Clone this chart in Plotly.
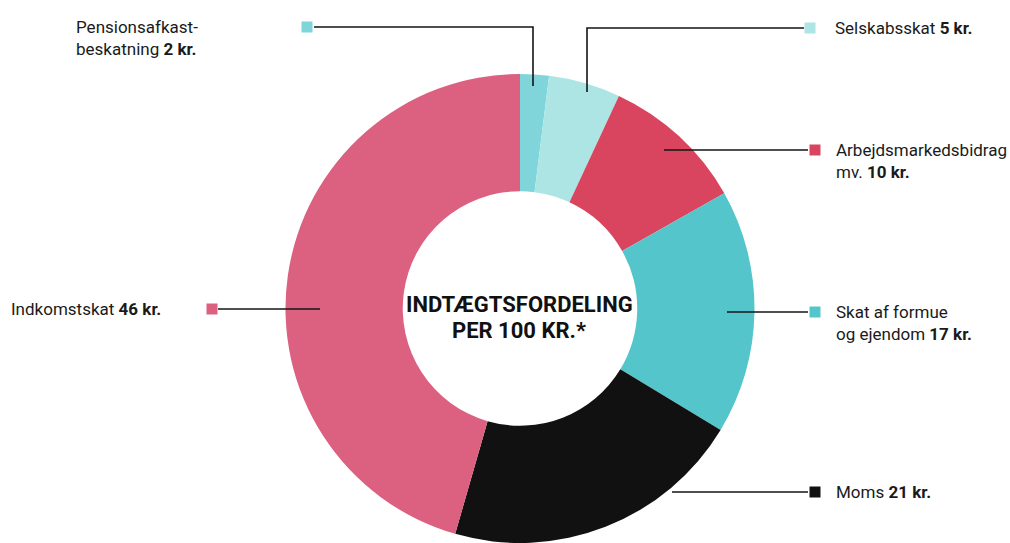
import plotly.graph_objects as go

# ---- data ----
categories = ["Pensionsafkastbeskatning", "Selskabsskat", "Arbejdsmarkedsbidrag mv.",
              "Skat af formue og ejendom", "Moms", "Indkomstskat"]
values = [2, 5, 10, 17, 21, 46]
colors = ["#7fd5da", "#ade4e4", "#d9455f", "#55c5cc", "#111111", "#dc6080"]
label_lines = [
    ["Pensionsafkast-", "beskatning <b>2 kr.</b>"],
    ["Selskabsskat <b>5 kr.</b>"],
    ["Arbejdsmarkedsbidrag", "mv. <b>10 kr.</b>"],
    ["Skat af formue", "og ejendom <b>17 kr.</b>"],
    ["Moms <b>21 kr.</b>"],
    ["Indkomstskat <b>46 kr.</b>"],
]
center_title = ["INDTÆGTSFORDELING", "PER 100 KR.*"]

W, H = 1010, 543
def px(x):
    return x / W
def py(y):
    return 1 - y / H

# leader layout (screen pixels): polyline points, marker position, text anchor
leaders = [
    dict(path=[(533, 86), (533, 27), (314, 27)], marker=(307, 27), text=(74, 27)),
    dict(path=[(587, 92), (587, 28), (804, 28)], marker=(810, 28), text=(833, 28)),
    dict(path=[(664, 150), (808, 150)], marker=(815, 150), text=(834, 150)),
    dict(path=[(727, 312), (808, 312)], marker=(815, 312), text=(834, 312)),
    dict(path=[(672, 492), (808, 492)], marker=(815, 492), text=(834, 492)),
    dict(path=[(320, 309), (218, 309)], marker=(212, 309), text=(9, 309)),
]

# pie placement (screen pixels)
cx, cy, R = 520, 311, 237
dom_x = [px(cx - R), px(cx + R)]
dom_y = [max(0.0, py(cy + R)), py(cy - R)]

fig = go.Figure()
fig.add_trace(go.Pie(
    labels=categories, values=values, hole=0.5, sort=False, direction="clockwise",
    rotation=0, marker=dict(colors=colors, line=dict(width=0)),
    textinfo="none", hoverinfo="label+value", showlegend=False,
    domain=dict(x=dom_x, y=dom_y),
))

shapes = []
annotations = []
font_family = "Roboto, 'DejaVu Sans', sans-serif"
for i, ld in enumerate(leaders):
    pts = ld["path"]
    d = "M " + " L ".join(f"{px(x)},{py(y)}" for x, y in pts)
    shapes.append(dict(type="path", path=d, xref="paper", yref="paper",
                       line=dict(color="#151515", width=1.6)))
    mx, my = ld["marker"]
    s = 5.5
    shapes.append(dict(type="rect", xref="paper", yref="paper",
                       x0=px(mx - s), x1=px(mx + s), y0=py(my + s), y1=py(my - s),
                       fillcolor=colors[i], line=dict(width=0)))
    tx, ty = ld["text"]
    for j, line in enumerate(label_lines[i]):
        annotations.append(dict(x=px(tx), y=py(ty + 22 * j), xref="paper", yref="paper",
                                text=line, showarrow=False, xanchor="left", yanchor="middle",
                                font=dict(family=font_family, size=17, color="#1a1a1a")))

for j, line in enumerate(center_title):
    annotations.append(dict(x=px(519), y=py(304 + 26 * j), xref="paper", yref="paper",
                            text=f"<b>{line}</b>", showarrow=False, xanchor="center",
                            yanchor="middle",
                            font=dict(family=font_family, size=22, color="#111111")))

fig.update_layout(
    width=W, height=H, margin=dict(l=0, r=0, t=0, b=0),
    paper_bgcolor="white", plot_bgcolor="white",
    shapes=shapes, annotations=annotations, showlegend=False,
)
fig.write_html("out.html", config={"displayModeBar": False},
               post_script="document.body.style.margin='0';")
